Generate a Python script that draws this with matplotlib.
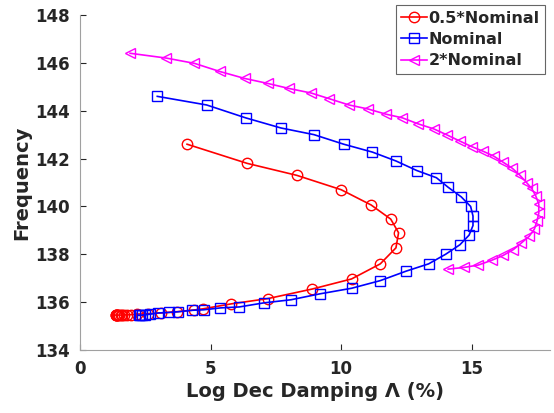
import numpy as np
import matplotlib.pyplot as plt

# log dec damping (%) and frequency for each case
half_x = [4.1, 6.4, 8.3, 10.0, 11.15, 11.9, 12.2, 12.1, 11.5, 10.4, 8.9, 7.2, 5.8,
          4.7, 4.35, 3.7, 3.1, 2.6, 2.2, 1.95, 1.8, 1.7, 1.62, 1.56, 1.5, 1.46,
          1.43, 1.41, 1.39, 1.38, 1.37]
half_y = [142.6, 141.8, 141.3, 140.7, 140.06, 139.47, 138.9, 138.27, 137.6, 136.97,
          136.55, 136.15, 135.93, 135.72, 135.67, 135.6, 135.55, 135.52, 135.5,
          135.48, 135.47, 135.47, 135.46, 135.46, 135.46, 135.46, 135.46, 135.46,
          135.46, 135.46, 135.46]

nom_x = [2.96, 4.85, 6.35, 7.69, 8.96, 10.1, 11.2, 12.1, 12.9, 13.65, 14.1, 14.6,
         14.96, 15.05, 15.05, 14.9, 14.55, 14.0, 13.35, 12.5, 11.5, 10.4, 9.2, 8.08,
         7.04, 6.1, 5.38, 4.73, 4.3, 3.77, 3.4, 3.0, 2.7, 2.5, 2.38, 2.3, 2.25]
nom_y = [144.6, 144.24, 143.7, 143.28, 143.0, 142.6, 142.27, 141.9, 141.5, 141.2,
         140.8, 140.4, 140.0, 139.6, 139.2, 138.8, 138.4, 138.0, 137.6, 137.3,
         136.9, 136.58, 136.35, 136.1, 135.97, 135.8, 135.76, 135.68, 135.66,
         135.6, 135.57, 135.55, 135.5, 135.47, 135.46, 135.45, 135.45]

dbl_x = [1.92, 3.3, 4.38, 5.35, 6.3, 7.19, 8.0, 8.85, 9.55, 10.3, 11.04, 11.7, 12.35,
         12.95, 13.55, 14.07, 14.55, 15.0, 15.45, 15.85, 16.2, 16.55, 16.85, 17.1,
         17.3, 17.45, 17.57, 17.57, 17.5, 17.4, 17.2, 16.9, 16.6, 16.2, 15.77,
         15.25, 14.7, 14.1]
dbl_y = [146.4, 146.2, 145.98, 145.64, 145.35, 145.14, 144.93, 144.74, 144.5, 144.24,
         144.07, 143.86, 143.7, 143.45, 143.24, 142.98, 142.73, 142.5, 142.3, 142.1,
         141.85, 141.6, 141.3, 141.0, 140.75, 140.45, 140.1, 139.72, 139.38, 139.05,
         138.75, 138.47, 138.2, 137.95, 137.75, 137.55, 137.45, 137.38]

plt.rcParams['font.family'] = 'DejaVu Sans'
plt.rcParams['font.weight'] = 'bold'

fig = plt.figure(figsize=(5.54, 4.13), dpi=100)
ax = fig.add_axes([0.1444, 0.1525, 0.8484, 0.8112])

ax.plot(half_x, half_y, '-o', color='#ff0000', mfc='none', ms=7.5, lw=1.2,
        mew=1.0, label='0.5*Nominal')
ax.plot(nom_x, nom_y, '-s', color='#0000ff', mfc='none', ms=7, lw=1.2,
        mew=1.0, label='Nominal')
ax.plot(dbl_x, dbl_y, '-<', color='#ff00ff', mfc='none', ms=7.5, lw=1.2,
        mew=1.0, label='2*Nominal')

ax.set_xlim(0, 18)
ax.set_ylim(134, 148)
ax.set_xticks([0, 5, 10, 15])
ax.set_yticks(np.arange(134, 149, 2))
ax.tick_params(direction='in', length=4, labelsize=12, colors='#262626',
               width=0.8, pad=7)
for lab in ax.get_xticklabels() + ax.get_yticklabels():
    lab.set_fontweight('bold')
for s in ['top', 'right']:
    ax.spines[s].set_visible(False)
for s in ['left', 'bottom']:
    ax.spines[s].set_color('#a0a0a0')

ax.set_xlabel('Log Dec Damping \u039b (%)', fontsize=14, fontweight='bold',
              color='#262626', labelpad=3)
ax.set_ylabel('Frequency', fontsize=14, fontweight='bold', color='#262626',
              labelpad=3)

leg = ax.legend(loc='upper right', bbox_to_anchor=(0.99, 1.03), fontsize=11.5,
                frameon=True, fancybox=False, edgecolor='#404040',
                borderpad=0.35, labelspacing=0.4, handlelength=1.6,
                handletextpad=0.1, borderaxespad=0)
leg.get_frame().set_linewidth(0.8)
for t in leg.get_texts():
    t.set_fontweight('bold')
    t.set_color('#262626')

fig.savefig('out.png', dpi=100)
